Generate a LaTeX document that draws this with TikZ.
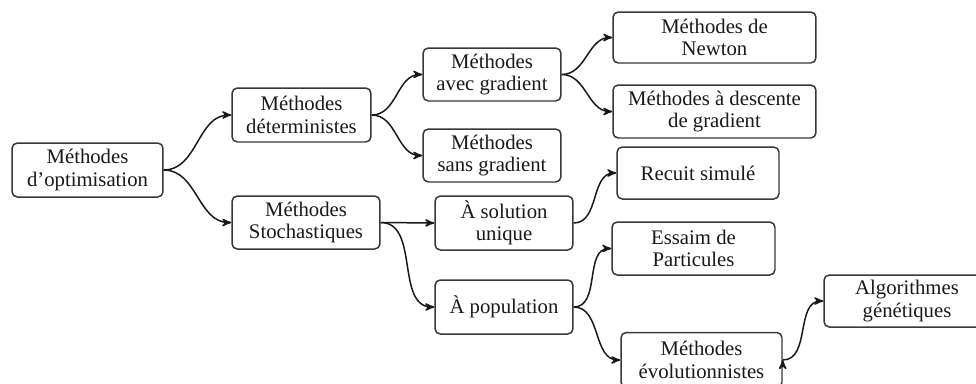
\documentclass[tikz,border=0pt]{standalone}
\usepackage{fontspec}
\setmainfont{Liberation Serif}
\usepackage{tikz}
\usetikzlibrary{arrows,shapes}

\begin{document}
\begin{tikzpicture}[->,>=stealth',x=0.02cm,y=-0.02cm,thick]
\tikzstyle{box}=[-,rectangle,rounded corners=3pt,draw=black!78,line width=0.85pt,
  text=black!90,align=center,inner sep=0pt,minimum height=1.06cm,
  font=\fontsize{11.8}{12.8}\selectfont]
\tikzstyle{link}=[draw=black!90,line width=0.85pt]

\useasboundingbox (0,0) rectangle (976,383);

\node[box,minimum width=3.02cm,minimum height=1.08cm] (opt) at (87.5,170)   {Méthodes\\d’optimisation};
\node[box,minimum width=2.78cm,minimum height=1.08cm] (det) at (301.5,115)  {Méthodes\\déterministes};
\node[box,minimum width=2.96cm]                      (sto) at (306,222.5)  {Méthodes\\Stochastiques};
\node[box,minimum width=2.76cm]                      (avec) at (492,74.5)  {Méthodes\\avec gradient};
\node[box,minimum width=2.76cm]                      (sans) at (492,155.5) {Méthodes\\sans gradient};
\node[box,minimum width=4.06cm,minimum height=1.02cm] (newt) at (714.5,37.5) {Méthodes de\\Newton};
\node[box,minimum width=4.06cm]                      (desc) at (714.5,111.5) {Méthodes à descente\\de gradient};
\node[box,minimum width=3.24cm,minimum height=1.04cm] (recu) at (698,173)  {Recuit simulé};
\node[box,minimum width=2.76cm,minimum height=1.08cm] (sol) at (504,223)   {À solution\\unique};
\node[box,minimum width=2.76cm,minimum height=1.08cm] (pop) at (504,307)   {À population};
\node[box,minimum width=3.26cm]                      (ess) at (693.5,248.5) {Essaim de\\Particules};
\node[box,minimum width=3.22cm,minimum height=1.1cm] (evo) at (701.5,360)  {Méthodes\\évolutionnistes};
\node[box,minimum width=3.32cm,minimum height=1.04cm] (algo) at (907,301)  {Algorithmes\\génétiques};

\path[link]
(opt.east)  edge [out=0,in=180] (det.west)
(opt.east)  edge [out=0,in=180] (sto.west)
(det.east)  edge [out=0,in=180] (avec.west)
(det.east)  edge [out=0,in=180] (sans.west)
(avec.east) edge [out=0,in=180] (newt.west)
(avec.east) edge [out=0,in=180] (desc.west)
(sto.east)  edge                (sol.west)
(sto.east)  edge [out=0,in=180] (pop.west)
(sol.east)  edge [out=0,in=180] (recu.west)
(pop.east)  edge [out=0,in=180] (ess.west)
(pop.east)  edge [out=0,in=180] (evo.west)
(evo.east)  edge [out=0,in=180] (algo.west);

\end{tikzpicture}
\end{document}
